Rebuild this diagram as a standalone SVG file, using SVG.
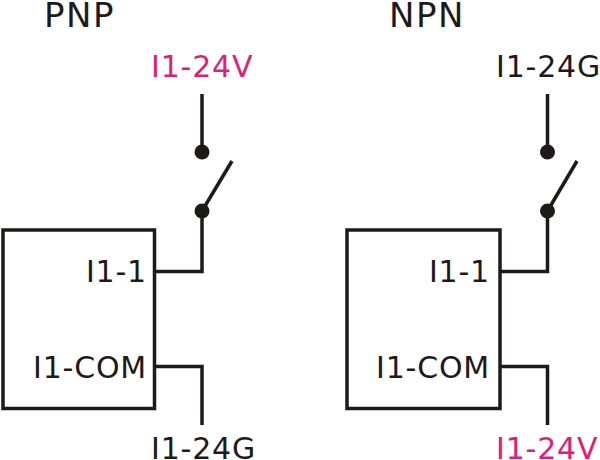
<svg xmlns="http://www.w3.org/2000/svg" width="600" height="460" viewBox="0 0 600 460">
<style>
.t{font-family:"DejaVu Sans",Verdana,sans-serif;font-size:30px;fill:#1e1a1a;letter-spacing:0.8px}
.h{font-size:34px;letter-spacing:1.5px}
.m{fill:#e31c79}
.w{fill:none;stroke:#1e1a1a;stroke-width:3.5;stroke-linecap:butt;stroke-linejoin:miter}
.box{fill:#fff;stroke:#1e1a1a;stroke-width:3.5}
.dot{fill:#1e1a1a}
</style>
<rect width="600" height="460" fill="#fff"/>
<text class="t h" x="44" y="27">PNP</text>
<text class="t h" x="389" y="27">NPN</text>
<g id="pnp-module">
<rect class="box" x="3" y="230" width="151.5" height="178.5"/>
<text class="t" x="147" y="282" text-anchor="end">I1-1</text>
<text class="t" x="147" y="378" text-anchor="end">I1-COM</text>
</g>
<g id="npn-module">
<rect class="box" x="347" y="230" width="153" height="178.5"/>
<text class="t" x="490" y="282" text-anchor="end">I1-1</text>
<text class="t" x="490" y="378" text-anchor="end">I1-COM</text>
</g>
<g id="pnp-switch">
<circle class="dot" cx="202" cy="152" r="7.5"/>
<circle class="dot" cx="202" cy="211" r="7.5"/>
</g>
<g id="npn-switch">
<circle class="dot" cx="547.5" cy="152" r="7.5"/>
<circle class="dot" cx="547.5" cy="211" r="7.5"/>
</g>
<g id="labels">
<text class="t m" x="151" y="77">I1-24V</text>
<text class="t" x="151" y="459">I1-24G</text>
<text class="t" x="496" y="77">I1-24G</text>
<text class="t m" x="496" y="459">I1-24V</text>
</g>
<g id="connectors">
<path class="w" d="M202 94V152"/>
<path class="w" d="M202 211L232 161"/>
<path class="w" d="M202 211V271.5H156"/>
<path class="w" d="M156 366.5H202V425"/>
<path class="w" d="M547.5 94V152"/>
<path class="w" d="M547.5 211L577 161"/>
<path class="w" d="M547.5 211V271.5H501"/>
<path class="w" d="M501 366.5H547.5V425"/>
</g>
</svg>
